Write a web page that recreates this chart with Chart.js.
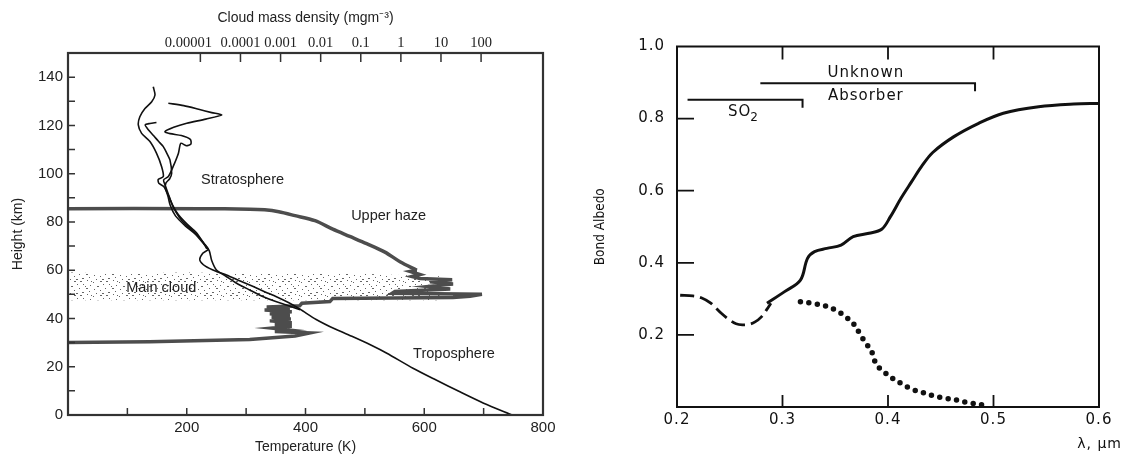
<!DOCTYPE html>
<html>
<head>
<meta charset="utf-8">
<script src="https://cdn.jsdelivr.net/npm/chart.js@4.4.1/dist/chart.umd.min.js"></script>
<style>
  html, body { margin: 0; padding: 0; background: #fff; }
  #wrap { position: relative; width: 1126px; height: 456px; overflow: hidden; }
  #left-box { position: absolute; left: 0; top: 0; width: 560px; height: 456px; }
  #right-box { position: absolute; left: 566px; top: 0; width: 560px; height: 456px; }
</style>
</head>
<body>
<div id="wrap">
  <div id="left-box"><canvas id="profile-chart"></canvas></div>
  <div id="right-box"><canvas id="albedo-chart"></canvas></div>
</div>
<script>
// ---------- left panel data: [temperature K, height km] ----------
const profileA = [[143.6,136],[146.5,132.6],[141,129.8],[129.6,127],[121,123.6],[118.4,120.2],[124,116.7],[138,113.3],[149,108.5],[157.7,102.9],[160.5,98.8],[152,97.6],[153,96],[162,94.5],[168,91],[172,87],[181,82.5],[197,78.5],[214,75],[229,70.8],[236,68.6],[227,67],[222,64.2],[232,61.6],[250,59.5],[267,58],[290,55.5],[312,53.2],[332,51],[351,49],[372,46.5],[391,43.8],[418,39.6],[450,35.6],[480,32.4],[510,29],[537,25.6],[581,19.4],[620,14.5],[660,9.6],[700,4.9],[748,0]];
const profileB = [[169,129.2],[195,128.2],[220,126.7],[242,125.3],[258.7,124.3],[232,122.6],[200,120.9],[178,119.2],[163.3,117.4],[172,116.6],[191,115.8],[206,114.2],[207,112.3],[199,111.6],[190,112.6],[186,108.5],[177,102.9],[169,98.8],[161,97.4],[164,95],[169,91.5],[175,87.5],[182,84],[192,80.5],[206,77.2],[219,74.2],[231,70.6],[238,68],[242,64],[250,60.1],[266,57.5],[284,54.6],[306,51.8],[329,49],[350,47],[368,45.6],[391,43.6]];
const profileC = [[149,121.2],[138,120.8],[130,120.2],[136,118],[144,115.8],[152,113.5],[160.5,111.2],[167,108.2],[171.7,105.7],[174.6,100.2],[171,97.8],[165,96.2],[164,94],[170,90.5],[176,87],[186,83],[201,79],[216,75.6],[228,71.3],[234,68.8]];

// cloud mass density profile: [density mg m-3, height km]
// upper haze part (smooth) and the cloud part below 60 km (stepped)
const hazeDensity = [[5e-9,85.5],[9.6e-6,85.5],[1.7e-4,85.3],[4e-4,85],[9e-4,84.2],[2.3e-3,82.6],[0.0072,80.5],[0.02,77],[0.053,74],[0.14,71],[0.4,67.5],[0.95,63.5],[2.5,60]];
const cloudDensity = [[2.5,60],[1.7,59.5],[3.0,58.2],[1.9,57.4],[3.0,56.6],[19,56],[5.3,55.2],[20,54.3],[4.7,53.2],[17,52.2],[0.71,51.2],[0.6,50.4],[105,50],[53,49.2],[20,48.7],[0.02,48.3],[0.017,47],[0.0034,46.3],[0.003,45.3],[0.00045,44.8],[0.0017,44.2],[0.0004,43.5],[0.0019,42.8],[0.00054,42],[0.0017,41.2],[0.0006,40.5],[0.0018,39.8],[0.00054,39],[0.0019,38.2],[0.00072,37.5],[0.0019,36.8],[0.0006,36],[0.0017,35.2],[0.00072,34.6],[0.0054,34],[0.0023,32.7],[0.00017,31.3],[5.4e-7,30.4],[5e-9,30]];

// main cloud stippled band: top edge [T, h], bottom height
const mainCloudTop = [[0,59],[100,58.6],[200,59],[300,58.6],[400,58.8],[520,58.3],[626,57.5]];
const mainCloudBase = 47.5;

const tempLabelValues = [200, 400, 600, 800];
const tempMinorValues = [100, 200, 300, 400, 500, 600, 700];
const heightLabelValues = [0, 20, 40, 60, 80, 100, 120, 140];
const heightMinorValues = [10, 20, 30, 40, 50, 60, 70, 80, 90, 100, 110, 120, 130, 140];
const densityTickValues = [1e-5, 1e-4, 1e-3, 1e-2, 1e-1, 1, 10, 100];
const densityTickLabels = ['0.00001', '0.0001', '0.001', '0.01', '0.1', '1', '10', '100'];

const regionNames = ['Stratosphere', 'Upper haze', 'Main cloud', 'Troposphere'];
const regionTemps = [294, 540, 157, 650];
const regionHeights = [97.4, 82.5, 52.6, 25.3];

// ---------- right panel data: [wavelength um, Bond albedo] ----------
const albedoSolid = [[0.2853,0.288],[0.302,0.32],[0.317,0.352],[0.3237,0.4125],[0.3304,0.431],[0.342,0.44],[0.3555,0.449],[0.367,0.4725],[0.382,0.482],[0.394,0.493],[0.4023,0.528],[0.4123,0.579],[0.4224,0.625],[0.432,0.668],[0.4424,0.706],[0.4625,0.75],[0.4859,0.787],[0.5093,0.815],[0.5428,0.833],[0.5761,0.8405],[0.6,0.842]];
const albedoDashed = [[0.203,0.31],[0.215,0.308],[0.223,0.303],[0.232,0.288],[0.242,0.26],[0.25,0.241],[0.256,0.231],[0.262,0.228],[0.268,0.229],[0.274,0.236],[0.28,0.25],[0.285,0.27],[0.289,0.288]];
const albedoDotted = [[0.317,0.292],[0.329,0.287],[0.341,0.28],[0.352,0.266],[0.36,0.25],[0.367,0.232],[0.374,0.2],[0.379,0.177],[0.384,0.157],[0.389,0.118],[0.396,0.098],[0.404,0.08],[0.412,0.066],[0.422,0.05],[0.433,0.04],[0.443,0.031],[0.454,0.024],[0.466,0.019],[0.476,0.012],[0.489,0.006]];
const so2Bracket = [[0.21,0.852],[0.319,0.852],[0.319,0.83]];
const unknownBracket = [[0.279,0.898],[0.4825,0.898],[0.4825,0.876]];
const so2Label = [0.2483, 0.818];
const unknownLabel = [0.379, 0.925];
const absorberLabel = [0.379, 0.8635];

const lambdaLabelValues = [0.2, 0.3, 0.4, 0.5, 0.6];
const lambdaInnerTicks = [0.3, 0.4, 0.5];
const albedoLabelValues = [0.2, 0.4, 0.6, 0.8, 1.0];
const albedoInnerTicks = [0.2, 0.4, 0.6, 0.8];

function toXY(rows) {
    return rows.map(function (r) { return { x: r[0], y: r[1] }; });
}

function fixTicks(values) {
    return function (scale) {
        scale.ticks = values.map(function (v) { return { value: v }; });
    };
}

// fixed speckle tile for the main cloud band
function stipplePattern(ctx) {
    const c = document.createElement('canvas');
    c.width = 26;
    c.height = 14;
    const g = c.getContext('2d');
    g.fillStyle = 'rgba(50,50,50,0.75)';
    [[2,1],[9,0],[15,2],[22,1],[5,4],[12,5],[19,6],[25,4],[1,8],[8,8],[16,9],[22,10],[4,12],[11,11],[18,13],[24,13],[13,1],[7,6]].forEach(function (p, i) {
        g.fillRect(p[0], p[1], i % 3 === 0 ? 2 : 1, 1);
    });
    return ctx.createPattern(c, 'repeat');
}

const sansFamily = '"Liberation Sans", Arial, sans-serif';
const roundFamily = '"DejaVu Sans", sans-serif';

// ---------- left panel ----------
const leftDecor = {
    id: 'leftDecor',
    afterDraw(chart) {
        const ctx = chart.ctx, a = chart.chartArea;
        const x = chart.scales.x, x2 = chart.scales.x2, y = chart.scales.y;
        ctx.save();
        ctx.strokeStyle = '#333';
        ctx.lineWidth = 1.5;
        ctx.beginPath();
        heightMinorValues.forEach(function (v) {
            const py = y.getPixelForValue(v);
            ctx.moveTo(a.left, py); ctx.lineTo(a.left + 7, py);
        });
        tempMinorValues.forEach(function (v) {
            const px = x.getPixelForValue(v);
            ctx.moveTo(px, a.bottom); ctx.lineTo(px, a.bottom - 7);
        });
        densityTickValues.forEach(function (v) {
            const px = x2.getPixelForValue(v);
            ctx.moveTo(px, a.top); ctx.lineTo(px, a.top + 9);
        });
        ctx.stroke();
        ctx.lineWidth = 2.2;
        ctx.strokeRect(a.left, a.top, a.right - a.left, a.bottom - a.top);

        ctx.fillStyle = '#222';
        ctx.textAlign = 'center';
        ctx.textBaseline = 'middle';
        ctx.font = '14.5px "Liberation Serif", "Times New Roman", serif';
        densityTickValues.forEach(function (v, i) {
            const px = x2.getPixelForValue(v) + (i === 0 ? -12 : 0);
            ctx.fillText(densityTickLabels[i], px, a.top - 10);
        });
        ctx.font = '14.5px ' + sansFamily;
        regionNames.forEach(function (t, i) {
            ctx.fillText(t, x.getPixelForValue(regionTemps[i]), y.getPixelForValue(regionHeights[i]));
        });
        ctx.restore();
    }
};

const leftCtx = document.getElementById('profile-chart').getContext('2d');

function profileSet(rows) {
    return {
        data: toXY(rows),
        showLine: true,
        borderColor: '#111',
        borderWidth: 1.6,
        pointRadius: 0,
        tension: 0.25,
        xAxisID: 'x',
        yAxisID: 'y'
    };
}

function densitySet(rows, tension) {
    return {
        data: toXY(rows),
        showLine: true,
        borderColor: '#4d4d4d',
        borderWidth: 3.5,
        pointRadius: 0,
        tension: tension,
        xAxisID: 'x2',
        yAxisID: 'y'
    };
}

new Chart(leftCtx, {
    type: 'scatter',
    data: {
        datasets: [
            profileSet(profileA),
            profileSet(profileB),
            profileSet(profileC),
            densitySet(hazeDensity, 0.3),
            densitySet(cloudDensity, 0),
            {
                data: toXY(mainCloudTop),
                showLine: true,
                borderWidth: 0,
                borderColor: 'rgba(0,0,0,0)',
                backgroundColor: stipplePattern(leftCtx),
                fill: { value: mainCloudBase },
                pointRadius: 0,
                tension: 0.3,
                xAxisID: 'x',
                yAxisID: 'y'
            }
        ]
    },
    options: {
        responsive: true,
        maintainAspectRatio: false,
        animation: false,
        layout: { padding: { left: 0, right: 17, top: 0, bottom: 0 } },
        plugins: { legend: { display: false }, tooltip: { enabled: false } },
        scales: {
            x: {
                type: 'linear',
                position: 'bottom',
                min: 0,
                max: 800,
                grid: { display: false, drawTicks: false },
                border: { display: false },
                afterBuildTicks: fixTicks(tempLabelValues),
                ticks: { padding: 4, color: '#222', font: { family: sansFamily, size: 15 } },
                title: { display: true, text: 'Temperature (K)', color: '#222', padding: { top: 0, bottom: 0 }, font: { family: sansFamily, size: 14 } },
                afterFit: function (s) { s.height = 41; }
            },
            x2: {
                type: 'logarithmic',
                position: 'top',
                min: 5e-9,
                max: 3500,
                grid: { display: false, drawTicks: false },
                border: { display: false },
                ticks: { display: false },
                title: { display: true, text: 'Cloud mass density (mgm⁻³)', color: '#222', padding: { top: 10, bottom: 0 }, font: { family: sansFamily, size: 14 } },
                afterFit: function (s) { s.height = 53; }
            },
            y: {
                type: 'linear',
                position: 'left',
                min: 0,
                max: 150,
                grid: { display: false, drawTicks: false },
                border: { display: false },
                afterBuildTicks: fixTicks(heightLabelValues),
                ticks: { padding: 5, color: '#222', font: { family: sansFamily, size: 15 } },
                title: { display: true, text: 'Height (km)', color: '#222', padding: { top: 10, bottom: 0 }, font: { family: sansFamily, size: 14 } },
                afterFit: function (s) { s.width = 68; }
            }
        }
    },
    plugins: [leftDecor]
});

// ---------- right panel ----------
const rightDecor = {
    id: 'rightDecor',
    beforeDraw(chart) {
        chart.ctx.letterSpacing = '1px';
    },
    afterDraw(chart) {
        const ctx = chart.ctx, a = chart.chartArea;
        const x = chart.scales.x, y = chart.scales.y;
        ctx.save();
        ctx.strokeStyle = '#111';
        ctx.lineWidth = 2;
        ctx.strokeRect(a.left, a.top, a.right - a.left, a.bottom - a.top);
        ctx.lineWidth = 1.8;
        ctx.beginPath();
        albedoInnerTicks.forEach(function (v) {
            const py = y.getPixelForValue(v);
            ctx.moveTo(a.left, py); ctx.lineTo(a.left + 17, py);
        });
        lambdaInnerTicks.forEach(function (v) {
            const px = x.getPixelForValue(v);
            ctx.moveTo(px, a.bottom); ctx.lineTo(px, a.bottom - 12);
            ctx.moveTo(px, a.top); ctx.lineTo(px, a.top + 13);
        });
        ctx.stroke();

        ctx.fillStyle = '#111';
        ctx.letterSpacing = '1px';
        ctx.textBaseline = 'middle';
        ctx.textAlign = 'center';
        ctx.font = '15px ' + roundFamily;
        ctx.fillText('Unknown', x.getPixelForValue(unknownLabel[0]), y.getPixelForValue(unknownLabel[1]));
        ctx.fillText('Absorber', x.getPixelForValue(absorberLabel[0]), y.getPixelForValue(absorberLabel[1]));

        ctx.textAlign = 'left';
        ctx.font = '15px ' + roundFamily;
        const sx = x.getPixelForValue(so2Label[0]);
        const sy = y.getPixelForValue(so2Label[1]);
        ctx.fillText('SO', sx, sy);
        const w = ctx.measureText('SO').width;
        ctx.font = '12px ' + roundFamily;
        ctx.fillText('2', sx + w - 1, sy + 6);

        ctx.textAlign = 'right';
        ctx.font = '14px ' + roundFamily;
        ctx.fillText('λ, μm', a.right + 23, a.bottom + 37);

        ctx.letterSpacing = '0px';
        ctx.translate(a.left - 77, (a.top + a.bottom) / 2);
        ctx.rotate(-Math.PI / 2);
        ctx.textAlign = 'center';
        ctx.font = '13.5px "DejaVu Sans Condensed", "DejaVu Sans", sans-serif';
        ctx.fillText('Bond Albedo', 0, 0);
        ctx.restore();
    }
};

function tickText(v) {
    return Number(v).toFixed(1);
}

const rightCtx = document.getElementById('albedo-chart').getContext('2d');
new Chart(rightCtx, {
    type: 'scatter',
    data: {
        datasets: [
            { data: toXY(albedoSolid), showLine: true, borderColor: '#111', borderWidth: 3, pointRadius: 0, tension: 0.35 },
            { data: toXY(albedoDashed), showLine: true, borderColor: '#111', borderWidth: 2.8, borderDash: [14, 6], pointRadius: 0, tension: 0.35 },
            { data: toXY(albedoDotted), showLine: true, borderColor: '#111', borderWidth: 5.5, borderDash: [0, 8.5], borderCapStyle: 'round', pointRadius: 0, tension: 0.35, clip: false },
            { data: toXY(so2Bracket), showLine: true, borderColor: '#111', borderWidth: 2, pointRadius: 0, tension: 0 },
            { data: toXY(unknownBracket), showLine: true, borderColor: '#111', borderWidth: 2, pointRadius: 0, tension: 0 }
        ]
    },
    options: {
        responsive: true,
        maintainAspectRatio: false,
        animation: false,
        layout: { padding: { left: 0, right: 27, top: 46.5, bottom: 0 } },
        plugins: { legend: { display: false }, tooltip: { enabled: false } },
        scales: {
            x: {
                type: 'linear',
                min: 0.2,
                max: 0.6,
                grid: { display: false, drawTicks: false },
                border: { display: false },
                afterBuildTicks: fixTicks(lambdaLabelValues),
                ticks: { padding: 4, color: '#111', callback: tickText, font: { family: roundFamily, size: 15 } },
                afterFit: function (s) { s.height = 49; }
            },
            y: {
                type: 'linear',
                min: 0,
                max: 1.0,
                grid: { display: false, drawTicks: false },
                border: { display: false },
                afterBuildTicks: fixTicks(albedoLabelValues),
                ticks: { padding: 12, color: '#111', callback: tickText, font: { family: roundFamily, size: 15 } },
                afterFit: function (s) { s.width = 111; }
            }
        }
    },
    plugins: [rightDecor]
});
</script>
</body>
</html>
